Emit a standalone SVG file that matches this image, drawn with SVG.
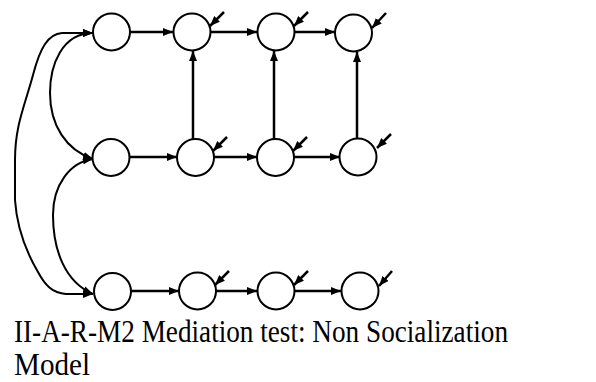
<svg xmlns="http://www.w3.org/2000/svg" width="596" height="382" viewBox="0 0 596 382">
<style>
.n{fill:#fff;stroke:#000;stroke-width:2}
.e{fill:none;stroke:#000;stroke-width:2.5}
.c{fill:none;stroke:#000;stroke-width:2}
.t{font-family:"Liberation Serif","Times New Roman",serif;font-size:31px;fill:#000}
</style>
<defs>
<marker id="ah" viewBox="0 0 10 8" refX="10" refY="4" markerWidth="10" markerHeight="8" markerUnits="userSpaceOnUse" orient="auto-start-reverse">
<path d="M0,0 L10,4 L0,8 Z" fill="#000"/>
</marker>
</defs>
<rect width="596" height="382" fill="#fff"/>
<g id="connectors">
<path class="e" d="M130,32 L173,32" marker-end="url(#ah)"/>
<path class="e" d="M211,32 L257,32" marker-end="url(#ah)"/>
<path class="e" d="M295,32 L335,32" marker-end="url(#ah)"/>
<path class="e" d="M129,157 L177,157" marker-end="url(#ah)"/>
<path class="e" d="M214,157 L257,157" marker-end="url(#ah)"/>
<path class="e" d="M294,157 L340,157" marker-end="url(#ah)"/>
<path class="e" d="M131,291 L179,291" marker-end="url(#ah)"/>
<path class="e" d="M216,291 L257,291" marker-end="url(#ah)"/>
<path class="e" d="M295,291 L341,291" marker-end="url(#ah)"/>
<path class="e" d="M193,139 L193,51" marker-end="url(#ah)"/>
<path class="e" d="M274,139 L274,51" marker-end="url(#ah)"/>
<path class="e" d="M357,138 L357,52" marker-end="url(#ah)"/>
<path class="e" d="M224,12 L210,26" marker-end="url(#ah)"/>
<path class="e" d="M308,12 L294,26" marker-end="url(#ah)"/>
<path class="e" d="M386,13 L372,28" marker-end="url(#ah)"/>
<path class="e" d="M227,137 L213,151" marker-end="url(#ah)"/>
<path class="e" d="M307,137 L293,151" marker-end="url(#ah)"/>
<path class="e" d="M391,134 L377,148" marker-end="url(#ah)"/>
<path class="e" d="M229,271 L215,285" marker-end="url(#ah)"/>
<path class="e" d="M308,271 L294,285" marker-end="url(#ah)"/>
<path class="e" d="M392,271 L379,286" marker-end="url(#ah)"/>
<path class="c" d="M93,33 L62,33 C48,34 40,48 33,75 C25,105 15,125 15,160 L15,200 C17,230 28,255 38,272 C45,285 52,293 66,294 L93,294" marker-start="url(#ah)" marker-end="url(#ah)"/>
<path class="c" d="M93,33 C62,33 50,65 50,93 C50,125 66,150 93,159" marker-start="url(#ah)" marker-end="url(#ah)"/>
<path class="c" d="M93,159 C70,162 53,185 53,215 C53,250 65,282 93,294" marker-start="url(#ah)" marker-end="url(#ah)"/>
</g>
<g id="n11"><circle class="n" cx="111.5" cy="32" r="18.5"/></g>
<g id="n12"><circle class="n" cx="192" cy="32" r="18.5"/></g>
<g id="n13"><circle class="n" cx="276" cy="32" r="18.5"/></g>
<g id="n14"><circle class="n" cx="353.5" cy="33" r="18.5"/></g>
<g id="n21"><circle class="n" cx="111" cy="157.5" r="18.5"/></g>
<g id="n22"><circle class="n" cx="195.5" cy="157.5" r="18.5"/></g>
<g id="n23"><circle class="n" cx="275.5" cy="157.5" r="18.5"/></g>
<g id="n24"><circle class="n" cx="358" cy="157" r="18.5"/></g>
<g id="n31"><circle class="n" cx="112.5" cy="291.5" r="18.5"/></g>
<g id="n32"><circle class="n" cx="197.5" cy="291" r="18.5"/></g>
<g id="n33"><circle class="n" cx="276" cy="291" r="18.5"/></g>
<g id="n34"><circle class="n" cx="360" cy="291" r="18.5"/></g>
<g id="caption">
<text class="t" x="14" y="342" textLength="494" lengthAdjust="spacingAndGlyphs">II-A-R-M2 Mediation test: Non Socialization</text>
<text class="t" x="14" y="375" textLength="76" lengthAdjust="spacingAndGlyphs">Model</text>
</g>
</svg>
